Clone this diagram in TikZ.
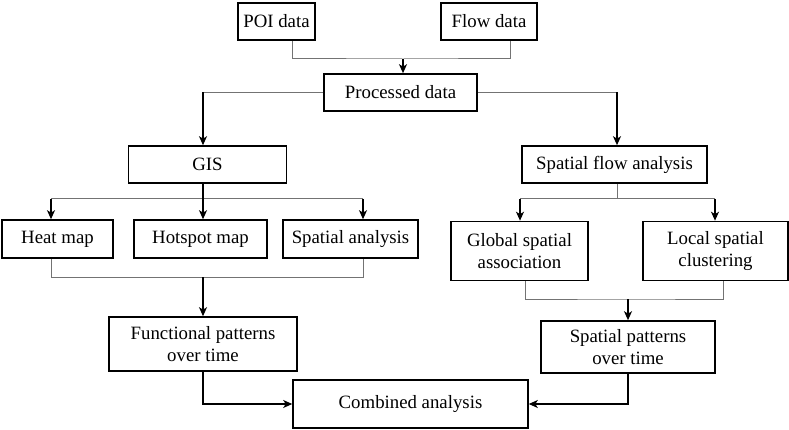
\documentclass[tikz,border=0pt]{standalone}
\usepackage{fontspec}
\setmainfont{Liberation Serif}
\usetikzlibrary{positioning,calc,arrows.meta}

\begin{document}
\begin{tikzpicture}[x=1pt, y=-1pt,
    box/.style={draw, line width=1.6pt, inner sep=0pt, align=center,
        font=\fontsize{18.8}{21.5}\selectfont},
    line/.style={draw=black!55, line width=1pt},
    arr/.style={draw=black, line width=1.5pt, -{Stealth[length=9pt, width=8pt, inset=2.5pt]}}]
    \useasboundingbox (0,0) rectangle (789,430);
    % input data
    \node [box, minimum width=77, minimum height=37] (poi) at (276.5,21.5) {POI data};
    \node [box, minimum width=96, minimum height=37] (flow) at (489,21.5) {Flow data};
    \node [box, minimum width=153, minimum height=37] (proc) at (400.5,92.5) {Processed data};
    % two methods
    \node [box, minimum width=158, minimum height=37] (gis) at (207.5,164.5) {GIS};
    \node [box, minimum width=185, minimum height=37] (sfa) at (614.5,164.5) {Spatial flow analysis};
    \node [box, minimum width=111, minimum height=38] (heat) at (57.5,239) {Heat map};
    \node [box, minimum width=133, minimum height=38] (hot) at (200.5,239) {Hotspot map};
    \node [box, minimum width=135, minimum height=38] (sana) at (350.5,239) {Spatial analysis};
    \node [box, minimum width=137, minimum height=59] (glob) at (519.5,251) {Global spatial\\association};
    \node [box, minimum width=145, minimum height=59] (loc) at (715.5,251) {Local spatial\\clustering};
    % results
    \node [box, minimum width=188, minimum height=54] (func) at (203,344) {Functional patterns\\over time};
    \node [box, minimum width=174, minimum height=52] (spp) at (628,347) {Spatial patterns\\over time};
    \node [box, minimum width=235, minimum height=48] (comb) at (410.5,404) {Combined analysis};

    % join points
    \coordinate (tj) at (403,59);
    \coordinate (gj) at (203,199);
    \coordinate (sj) at (617,199);
    \coordinate (hl) at (51,199);
    \coordinate (hr) at (363,199);
    \coordinate (gl) at (520,199);
    \coordinate (lr) at (715,199);
    \coordinate (gb) at (203,277);
    \coordinate (sb) at (628,299);

    \draw [line] ([xshift=15.5]poi.south) |- (tj) -| ([xshift=21]flow.south);
    \draw [arr] (tj) -- (tj |- proc.north);
    \draw [line] (proc.west) -- (proc.west -| gj);
    \draw [arr] (proc.west -| gj) -- (gj |- gis.north);
    \draw [line] (proc.east) -- (proc.east -| sj);
    \draw [arr] (proc.east -| sj) -- (sj |- sfa.north);
    % GIS branch
    \draw [line] (hl) -- (hr);
    \draw [arr] (gj |- gis.south) -- (gj |- hot.north);
    \draw [arr] (hl) -- (hl |- heat.north);
    \draw [arr] (hr) -- (hr |- sana.north);
    \draw [line] (hl |- heat.south) -- (hl |- gb) -- (hr |- gb) -- (hr |- sana.south);
    \draw [arr] (gb) -- (gb |- func.north);
    % flow branch
    \draw [line] (sj |- sfa.south) -- (sj);
    \draw [line] (gl) -- (lr);
    \draw [arr] (gl) -- (gl |- glob.north);
    \draw [arr] (lr) -- (lr |- loc.north);
    \draw [line] ([xshift=5.5]glob.south) |- (sb) -| ([xshift=7.5]loc.south);
    \draw [arr] (sb) -- (sb |- spp.north);
    % combined
    \draw [arr] (gb |- func.south) |- (comb.west);
    \draw [arr] (sb |- spp.south) |- (comb.east);
\end{tikzpicture}
\end{document}
